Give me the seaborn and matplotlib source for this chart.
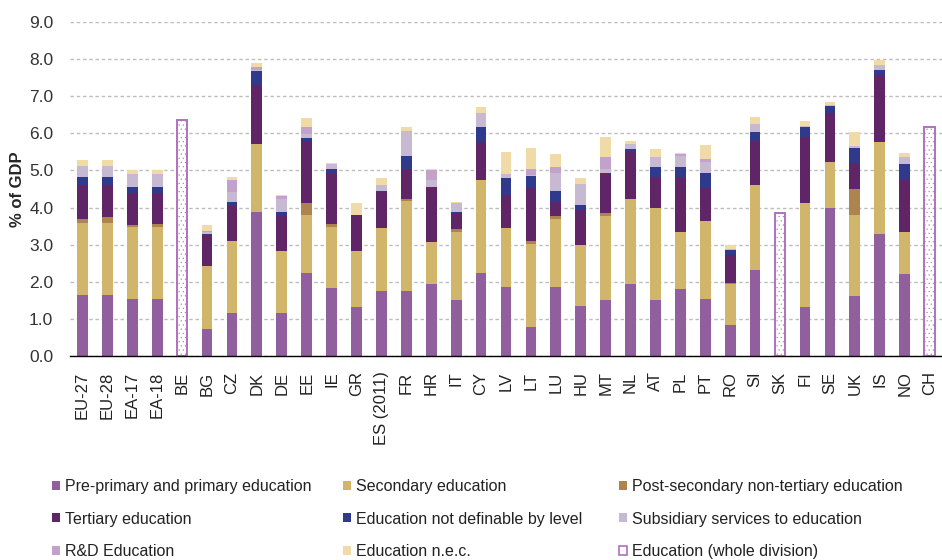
import numpy as np
import matplotlib
matplotlib.use('Agg')
import matplotlib.pyplot as plt
import seaborn as sns
from matplotlib.patches import Patch
from matplotlib.ticker import FormatStrFormatter

# Countries / aggregates on the x axis
countries = ['EU-27', 'EU-28', 'EA-17', 'EA-18', 'BE', 'BG', 'CZ', 'DK', 'DE', 'EE',
             'IE', 'GR', 'ES (2011)', 'FR', 'HR', 'IT', 'CY', 'LV', 'LT', 'LU',
             'HU', 'MT', 'NL', 'AT', 'PL', 'PT', 'RO', 'SI', 'SK', 'FI',
             'SE', 'UK', 'IS', 'NO', 'CH']

# Expenditure by level, % of GDP (0 where only the whole division is reported)
pre_primary = [1.65, 1.65, 1.53, 1.53, 0, 0.72, 1.17, 3.89, 1.17, 2.24,
               1.84, 1.31, 1.76, 1.76, 1.95, 1.50, 2.24, 1.87, 0.79, 1.87,
               1.35, 1.50, 1.95, 1.50, 1.80, 1.53, 0.83, 2.32, 0, 1.31,
               4.00, 1.61, 3.29, 2.21, 0]
secondary = [1.94, 1.94, 1.95, 1.95, 0, 1.71, 1.92, 1.83, 1.65, 1.57,
             1.64, 1.53, 1.68, 2.43, 1.12, 1.84, 2.50, 1.57, 2.24, 1.81,
             1.63, 2.28, 2.27, 2.50, 1.53, 2.10, 1.10, 2.28, 0, 2.81,
             1.24, 2.20, 2.47, 1.12, 0]
post_secondary = [0.11, 0.16, 0.04, 0.07, 0, 0, 0, 0, 0.02, 0.31,
                  0.07, 0, 0, 0.04, 0, 0.07, 0, 0.02, 0.07, 0.10,
                  0, 0.08, 0, 0, 0, 0, 0.03, 0, 0, 0,
                  0, 0.68, 0, 0, 0]
tertiary = [0.90, 0.85, 0.86, 0.83, 0, 0.82, 0.95, 1.57, 0.94, 1.67,
            1.38, 0.97, 0.97, 0.82, 1.45, 0.45, 1.02, 0.88, 1.42, 0.37,
            0.95, 1.05, 1.28, 0.83, 1.50, 0.89, 0.77, 1.20, 0, 1.79,
            1.31, 0.71, 1.80, 1.42, 0]
not_definable = [0.23, 0.23, 0.18, 0.18, 0, 0.03, 0.11, 0.38, 0.11, 0.08,
                 0.12, 0, 0.04, 0.34, 0.04, 0.03, 0.41, 0.45, 0.34, 0.30,
                 0.15, 0.03, 0.08, 0.26, 0.26, 0.41, 0.12, 0.23, 0, 0.26,
                 0.18, 0.41, 0.14, 0.42, 0]
subsidiary = [0.30, 0.30, 0.35, 0.35, 0, 0.06, 0.26, 0.04, 0.34, 0.12,
              0.11, 0, 0.15, 0.67, 0.19, 0.23, 0.38, 0.12, 0.02, 0.49,
              0.56, 0.11, 0.14, 0.26, 0.30, 0.31, 0.04, 0.22, 0, 0.02,
              0.02, 0.04, 0.15, 0.18, 0]
rd_education = [0, 0, 0, 0, 0, 0.03, 0.34, 0.07, 0.07, 0.18,
                0, 0, 0, 0, 0.26, 0, 0, 0, 0.17, 0.15,
                0, 0.30, 0, 0, 0.04, 0.07, 0, 0, 0, 0,
                0, 0, 0, 0, 0]
nec = [0.14, 0.14, 0.09, 0.09, 0, 0.15, 0.08, 0.11, 0.04, 0.23,
       0.04, 0.31, 0.19, 0.11, 0.04, 0.03, 0.15, 0.59, 0.56, 0.34,
       0.15, 0.56, 0.07, 0.23, 0.03, 0.38, 0.10, 0.19, 0, 0.13,
       0.09, 0.38, 0.13, 0.11, 0]

# Countries reporting only the whole division
whole_countries = ['BE', 'SK', 'CH']
whole_values = [6.35, 3.85, 6.17]

series = [
    ('Pre-primary and primary education', pre_primary, '#915E9E'),
    ('Secondary education', secondary, '#D1B56B'),
    ('Post-secondary non-tertiary education', post_secondary, '#AD844D'),
    ('Tertiary education', tertiary, '#5F2567'),
    ('Education not definable by level', not_definable, '#2F3A8C'),
    ('Subsidiary services to education', subsidiary, '#C7B9D1'),
    ('R&D Education', rd_education, '#C2A1CA'),
    ('Education n.e.c.', nec, '#F0DAA8'),
]
whole_label = 'Education (whole division)'
whole_edge = '#B070C0'

sns.set_style('white')
plt.rcParams['font.family'] = ['Liberation Sans', 'DejaVu Sans']
plt.rcParams['hatch.linewidth'] = 0.3

fig = plt.figure(figsize=(9.42, 5.6), dpi=100)
ax = fig.add_axes([0.0743, 0.364, 0.9257, 0.597])

# stacked bars: draw cumulative totals from the top layer down
stack = np.cumsum(np.array([s[1] for s in series]), axis=0)
for i in range(len(series) - 1, -1, -1):
    sns.barplot(x=countries, y=stack[i], order=countries, color=series[i][2],
                saturation=1, width=0.43, errorbar=None, linewidth=0, ax=ax)

n_before = len(ax.patches)
sns.barplot(x=whole_countries, y=whole_values, order=countries, color='white',
            saturation=1, width=0.43, errorbar=None, edgecolor=whole_edge,
            linewidth=1.4, hatch='....', ax=ax)
for p in ax.patches[n_before:]:
    p.set_edgecolor(whole_edge)

ax.set_xlim(-0.5, len(countries) - 0.5)
ax.set_ylim(0, 9)
ax.set_yticks(np.arange(0, 9.5, 1.0))
ax.yaxis.set_major_formatter(FormatStrFormatter('%.1f'))
ax.yaxis.grid(True, color='#BDBDBD', linestyle=(0, (2.5, 2)), linewidth=1)
ax.set_axisbelow(True)
for side in ['left', 'right', 'top']:
    ax.spines[side].set_visible(False)
ax.spines['bottom'].set_color('black')
ax.spines['bottom'].set_linewidth(1)

ax.set_xlabel('')
ax.set_xticks(range(len(countries)))
ax.set_xticklabels(countries, rotation=90, fontsize=12, color='#222222')
ax.set_xticks(np.arange(-0.5, len(countries), 1), minor=True)
ax.tick_params(axis='x', which='major', length=0, pad=11)
ax.tick_params(axis='x', which='minor', length=7, width=1, direction='out', color='black')
ax.tick_params(axis='y', length=0, pad=12, labelsize=12.5, labelcolor='#333333')

ax.set_ylabel('% of GDP', fontsize=12, fontweight='bold')
ax.yaxis.set_label_coords(-0.052, 0.5)

# legend: three columns placed separately
handles = [Patch(facecolor=c, edgecolor='none', label=l) for l, _, c in series]
handles.append(Patch(facecolor='white', edgecolor=whole_edge, linewidth=1.2, label=whole_label))
cols = [[0, 3, 6], [1, 4, 7], [2, 5, 8]]
col_x = [0.055, 0.364, 0.657]
for idx, x in zip(cols, col_x):
    leg = fig.legend(handles=[handles[k] for k in idx], loc='center left',
                     bbox_to_anchor=(x, 0.0732), frameon=False, fontsize=11.5,
                     handlelength=0.5, handleheight=0.5, handletextpad=0.35,
                     labelspacing=1.1, borderpad=0, borderaxespad=0)
    for t in leg.get_texts():
        t.set_color('#222222')

fig.savefig('out.png', dpi=100)
